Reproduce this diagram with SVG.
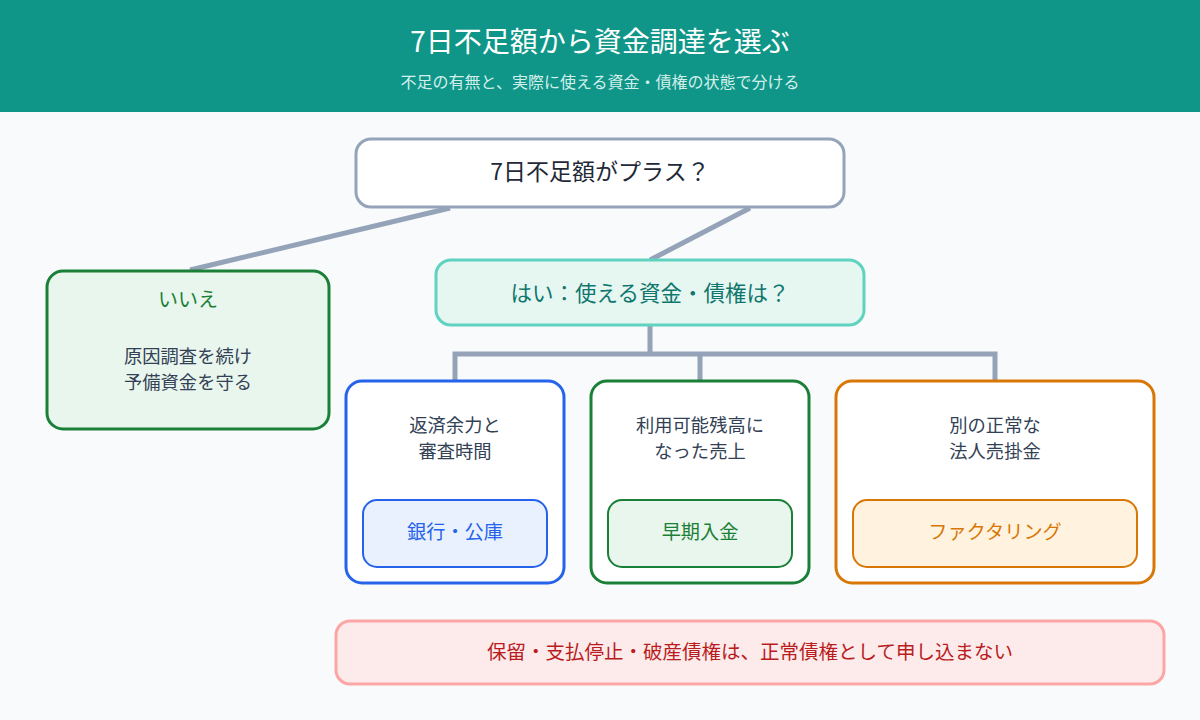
<svg xmlns="http://www.w3.org/2000/svg" width="1200" height="720" viewBox="0 0 1200 720">
<style>
text{font-family:"Noto Sans CJK JP","Noto Sans",sans-serif;text-anchor:middle;dominant-baseline:central}
.conn{stroke:#94a3b8;stroke-width:5;fill:none}
.body{font-size:18.3px;fill:#334155}
.card{fill:#ffffff;stroke-width:3}
.pill{stroke-width:2}
.pt{font-size:19.2px}
</style>
<rect x="0" y="0" width="1200" height="720" fill="#f8fafc"/>
<g id="header">
<rect x="0" y="0" width="1200" height="112" fill="#0f9688"/>
<text x="600" y="40" font-size="28" fill="#ffffff">7日不足額から資金調達を選ぶ</text>
<text x="600" y="81" font-size="16" fill="#d4efeb">不足の有無と、実際に使える資金・債権の状態で分ける</text>
</g>
<g id="connectors">
<line class="conn" x1="450" y1="208" x2="190" y2="270"/>
<line class="conn" x1="750" y1="208" x2="650" y2="260"/>
<polyline class="conn" points="650,325 650,354"/>
<polyline class="conn" points="455,381 455,354 995,354 995,381"/>
<line class="conn" x1="700" y1="354" x2="700" y2="381"/>
</g>
<g id="q1">
<rect x="356" y="139" width="488" height="68" rx="15" fill="#ffffff" stroke="#94a3b8" stroke-width="3"/>
<text x="600" y="170" font-size="23" fill="#1f2937">7日不足額がプラス？</text>
</g>
<g id="no">
<rect x="47" y="271" width="282" height="158" rx="16" fill="#e9f6ed" stroke="#1a7f37" stroke-width="3"/>
<text x="188" y="298" font-size="20" fill="#1a7f37">いいえ</text>
<text class="body" x="188" y="355">原因調査を続け</text>
<text class="body" x="188" y="381">予備資金を守る</text>
</g>
<g id="yes">
<rect x="436" y="260" width="428" height="65" rx="15" fill="#e6f6f1" stroke="#5fd3c0" stroke-width="3"/>
<text x="650" y="291" font-size="21.5" fill="#0f766e">はい：使える資金・債権は？</text>
</g>
<g id="bank">
<rect class="card" x="346" y="381" width="218" height="202" rx="16" stroke="#2563eb"/>
<text class="body" x="455" y="424">返済余力と</text>
<text class="body" x="455" y="450">審査時間</text>
<rect class="pill" x="363" y="500" width="184" height="67" rx="14" fill="#eaf1fe" stroke="#2563eb"/>
<text class="pt" x="455" y="531" fill="#2563eb">銀行・公庫</text>
</g>
<g id="early">
<rect class="card" x="591" y="381" width="218" height="202" rx="16" stroke="#1a7f37"/>
<text class="body" x="700" y="424">利用可能残高に</text>
<text class="body" x="700" y="450">なった売上</text>
<rect class="pill" x="608" y="500" width="184" height="67" rx="14" fill="#e9f6ed" stroke="#1a7f37"/>
<text class="pt" x="700" y="531" fill="#1a7f37">早期入金</text>
</g>
<g id="factoring">
<rect class="card" x="836" y="381" width="318" height="202" rx="16" stroke="#d97706"/>
<text class="body" x="995" y="424">別の正常な</text>
<text class="body" x="995" y="450">法人売掛金</text>
<rect class="pill" x="853" y="500" width="284" height="67" rx="14" fill="#fff3e0" stroke="#d97706"/>
<text class="pt" x="995" y="531" fill="#d97706">ファクタリング</text>
</g>
<g id="warning">
<rect x="336" y="621" width="828" height="63" rx="14" fill="#fdebec" stroke="#fca5a5" stroke-width="3"/>
<text x="750" y="650" font-size="19.5" fill="#b91c1c">保留・支払停止・破産債権は、正常債権として申し込まない</text>
</g>
</svg>
